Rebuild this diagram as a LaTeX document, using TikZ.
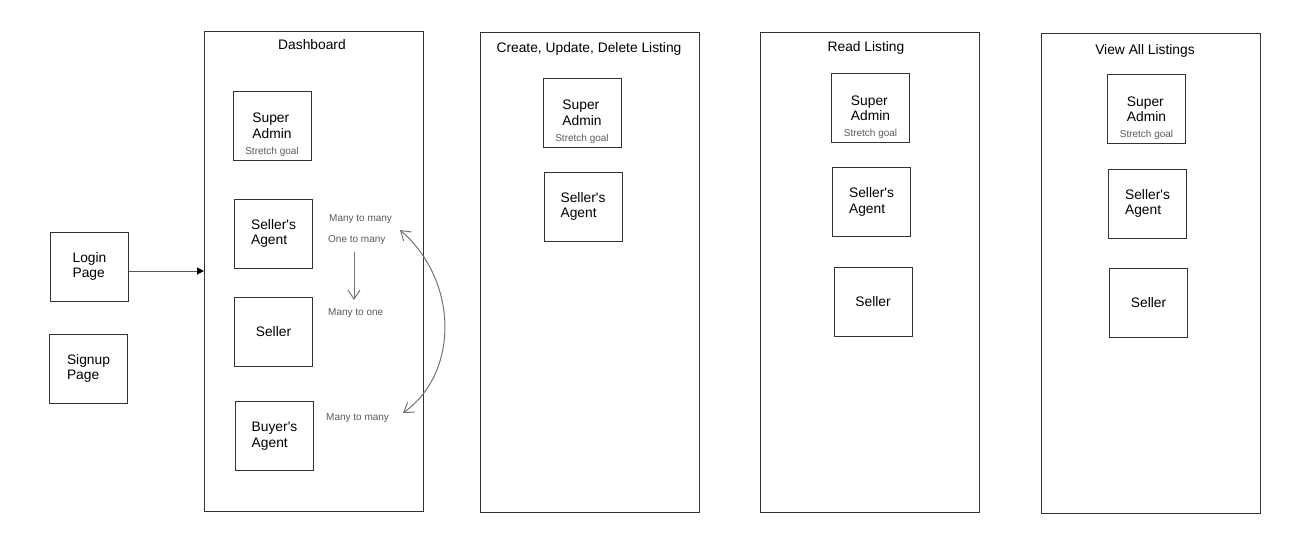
\documentclass[tikz,border=0pt]{standalone}
\usepackage{fontspec}
\setmainfont{Liberation Sans}
\usetikzlibrary{arrows.meta,positioning}

\newcommand{\boxfont}{\fontsize{13.8}{15.5}\selectfont}
\newcommand{\notefont}{\fontsize{10}{12}\selectfont}

\begin{document}
\begin{tikzpicture}[
    x=1pt, y=-1pt,
    panel/.style={rectangle, draw=black!80, line width=1pt, minimum width=219pt, minimum height=480pt, inner sep=0pt},
    card/.style={rectangle, draw=black!80, line width=1pt, minimum width=78pt, minimum height=69pt, align=left, font=\boxfont, inner sep=0pt},
    title/.style={font=\boxfont, inner sep=0pt},
    goal/.style={font=\notefont, text=black!65, anchor=south, inner sep=4pt},
    note/.style={font=\notefont, text=black!65, anchor=west, inner sep=0pt},
    barb/.tip={Straight Barb[length=9pt,width=12pt]},
    arrow/.style={-{Triangle[length=7pt,width=7pt,black]}, draw=black!65, line width=1pt},
    rel/.style={-barb, draw=black!55, line width=1pt}
]
\useasboundingbox (0,0) rectangle (1300,552);

% Entry pages
\node[card] (login) at (89.5,266.5) {Login\\Page};
\node[card] (signup) at (88.5,368.5) {Signup\\Page};

% Dashboard
\node[panel] (dash) at (314,271) {};
\node[title] (dashtitle) at (312,45) {Dashboard};
\node[card, label={[goal]south:Stretch goal}] (dashadmin) at (272,125.5) {Super\\Admin};
\node[card] (dashsagent) at (273.5,233.5) {Seller\textquotesingle s\\Agent};
\node[card] (dashseller) at (273.5,331.5) {Seller};
\node[card] (dashbagent) at (274.5,436) {Buyer\textquotesingle s\\Agent};

% Relations
\node[note] (m2mtop) at (329,219) {Many to many};
\node[note] (o2m) at (328,240) {One to many};
\node[note] (m2o) at (328,313) {Many to one};
\node[note] (m2mbot) at (326,418) {Many to many};

% Create, update, delete
\node[panel] (cud) at (589.5,272) {};
\node[title] (cudtitle) at (589,49) {Create, Update, Delete Listing};
\node[card, label={[goal]south:Stretch goal}] (cudadmin) at (582,112.5) {Super\\Admin};
\node[card] (cudsagent) at (583,206.5) {Seller\textquotesingle s\\Agent};

% Read
\node[panel] (read) at (869.5,272) {};
\node[title] (readtitle) at (866,48) {Read Listing};
\node[card, label={[goal]south:Stretch goal}] (readadmin) at (870.5,108) {Super\\Admin};
\node[card] (readsagent) at (871.5,202) {Seller\textquotesingle s\\Agent};
\node[card] (readseller) at (873,301.5) {Seller};

% View all
\node[panel] (view) at (1150.5,273) {};
\node[title] (viewtitle) at (1145,51) {View All Listings};
\node[card, label={[goal]south:Stretch goal}] (viewadmin) at (1146.5,109) {Super\\Admin};
\node[card] (viewsagent) at (1147.5,203.5) {Seller\textquotesingle s\\Agent};
\node[card] (viewseller) at (1148.5,302.5) {Seller};

% Arrows
\coordinate (loginout) at ([yshift=-4.5pt]login.east);
\draw[arrow] (loginout) -- (loginout -| dash.west);

\coordinate (o2mstart) at (354,252);
\coordinate (o2mend) at (354,300);
\draw[rel] (o2mstart) -- (o2mend);

\coordinate (linktop) at (400,230);
\coordinate (linkbot) at (403,413);
\draw[rel, barb-barb] (linktop) .. controls (458,280) and (460,372) .. (linkbot);

\end{tikzpicture}
\end{document}
